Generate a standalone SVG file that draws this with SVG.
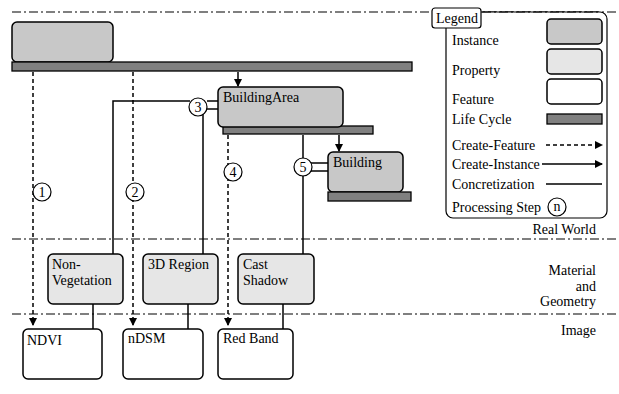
<svg xmlns="http://www.w3.org/2000/svg" width="619" height="394" viewBox="0 0 619 394" font-family="'Liberation Serif', 'Times New Roman', Times, serif" font-size="14">
<defs>
<marker id="arr" markerWidth="8" markerHeight="8" refX="7" refY="4" orient="auto" markerUnits="userSpaceOnUse">
<path d="M0,0 L8,4 L0,8 Z" fill="#000"/>
</marker>
<style>
text{font-family:'Liberation Serif','Times New Roman',Times,serif;font-size:14px;fill:#000}
.inst{fill:#c8c8c8;stroke:#000;stroke-width:1.5}
.prop{fill:#e6e6e6;stroke:#000;stroke-width:1.5}
.feat{fill:#fff;stroke:#000;stroke-width:1.5}
.life{fill:#808080;stroke:#000;stroke-width:1.3}
.sep{stroke:#000;stroke-width:1.2;stroke-dasharray:9,3,2,3;fill:none}
.dash{stroke:#000;stroke-width:1.5;stroke-dasharray:4,3;fill:none}
.solid{stroke:#000;stroke-width:1.5;fill:none}
.step{fill:#fff;stroke:#000;stroke-width:1.2}
.r{text-anchor:end}
.c{text-anchor:middle}
</style>
</defs>
<g id="layers">
<line class="sep" x1="12" y1="12" x2="619" y2="12"/>
<line class="sep" x1="12" y1="239" x2="619" y2="239"/>
<line class="sep" x1="12" y1="314" x2="619" y2="314"/>
<text class="r" x="596" y="234">Real World</text>
<text class="r" x="596" y="275">Material</text>
<text class="r" x="596" y="291">and</text>
<text class="r" x="596" y="306">Geometry</text>
<text class="r" x="596" y="335">Image</text>
</g>
<g id="connectors">
<line class="dash" x1="33" y1="72" x2="33" y2="325" marker-end="url(#arr)"/>
<line class="dash" x1="133" y1="72" x2="133" y2="325" marker-end="url(#arr)"/>
<line class="dash" x1="228" y1="135" x2="228" y2="325" marker-end="url(#arr)"/>
<line class="solid" x1="238" y1="72" x2="238" y2="86" marker-end="url(#arr)"/>
<line class="solid" x1="339" y1="135" x2="339" y2="151" marker-end="url(#arr)"/>
<polyline class="solid" points="190,101 113,101 113,254"/>
<line class="solid" x1="203" y1="114" x2="203" y2="254"/>
<line class="solid" x1="207" y1="101" x2="218" y2="101"/>
<line class="solid" x1="207" y1="109" x2="218" y2="109"/>
<line class="solid" x1="303" y1="135" x2="303" y2="254"/>
<line class="solid" x1="311" y1="163" x2="328" y2="163"/>
<line class="solid" x1="311" y1="171" x2="328" y2="171"/>
<line class="solid" x1="93" y1="304" x2="93" y2="329"/>
<line class="solid" x1="188" y1="304" x2="188" y2="329"/>
<line class="solid" x1="283" y1="304" x2="283" y2="329"/>
</g>
<g id="top-instance">
<rect class="inst" x="12" y="22" width="101" height="40" rx="5"/>
<rect class="life" x="12" y="62" width="400" height="9"/>
</g>
<g id="building-area">
<rect class="life" x="223" y="126" width="150" height="8"/>
<rect class="inst" x="218" y="87" width="125" height="40" rx="5"/>
<text x="223" y="102">BuildingArea</text>
</g>
<g id="building">
<rect class="inst" x="328" y="152" width="75" height="40" rx="5"/>
<rect class="life" x="328" y="192" width="83" height="9"/>
<text x="333" y="167">Building</text>
</g>
<g id="step1"><circle class="step" cx="42" cy="192" r="9"/><text class="c" x="42" y="197">1</text></g>
<g id="step2"><circle class="step" cx="135" cy="192" r="9"/><text class="c" x="135" y="197">2</text></g>
<g id="step3"><circle class="step" cx="198" cy="107" r="9"/><text class="c" x="198" y="112">3</text></g>
<g id="step4"><circle class="step" cx="233" cy="172" r="9"/><text class="c" x="233" y="177">4</text></g>
<g id="step5"><circle class="step" cx="303" cy="167" r="9"/><text class="c" x="303" y="172">5</text></g>
<g id="non-vegetation">
<rect class="prop" x="48" y="254" width="75" height="50" rx="5"/>
<text x="52" y="269">Non-</text>
<text x="52" y="285">Vegetation</text>
</g>
<g id="region3d">
<rect class="prop" x="143" y="254" width="75" height="50" rx="5"/>
<text x="148" y="269">3D Region</text>
</g>
<g id="cast-shadow">
<rect class="prop" x="238" y="254" width="76" height="50" rx="5"/>
<text x="243" y="269">Cast</text>
<text x="243" y="285">Shadow</text>
</g>
<g id="ndvi">
<rect class="feat" x="23" y="329" width="79" height="50" rx="5"/>
<text x="27" y="345">NDVI</text>
</g>
<g id="ndsm">
<rect class="feat" x="123" y="329" width="80" height="50" rx="5"/>
<text x="128" y="343">nDSM</text>
</g>
<g id="red-band">
<rect class="feat" x="218" y="329" width="75" height="50" rx="5"/>
<text x="223" y="343">Red Band</text>
</g>
<g id="legend">
<rect x="446" y="12" width="161" height="206" rx="7" fill="#fff" stroke="#000" stroke-width="1.2"/>
<line class="sep" x1="482" y1="12" x2="600" y2="12"/>
<rect x="432" y="8" width="49" height="20" rx="3" fill="#fff" stroke="#000" stroke-width="1.2"/>
<text x="436" y="23">Legend</text>
<text x="452" y="45">Instance</text>
<rect class="inst" x="547" y="19" width="55" height="25" rx="4"/>
<text x="452" y="75">Property</text>
<rect class="prop" x="547" y="49" width="55" height="25" rx="4"/>
<text x="452" y="104">Feature</text>
<rect class="feat" x="547" y="79" width="55" height="25" rx="4"/>
<text x="452" y="124">Life Cycle</text>
<rect class="life" x="547" y="114" width="55" height="10"/>
<text x="452" y="150">Create-Feature</text>
<line class="dash" x1="546" y1="145" x2="602" y2="145" marker-end="url(#arr)"/>
<text x="452" y="169">Create-Instance</text>
<line class="solid" x1="542" y1="164" x2="602" y2="164" marker-end="url(#arr)"/>
<text x="452" y="189">Concretization</text>
<line class="solid" x1="546" y1="184" x2="602" y2="184"/>
<text x="452" y="212">Processing Step</text>
<circle class="step" cx="557" cy="207" r="9"/>
<text class="c" x="557" y="211">n</text>
</g>
</svg>
